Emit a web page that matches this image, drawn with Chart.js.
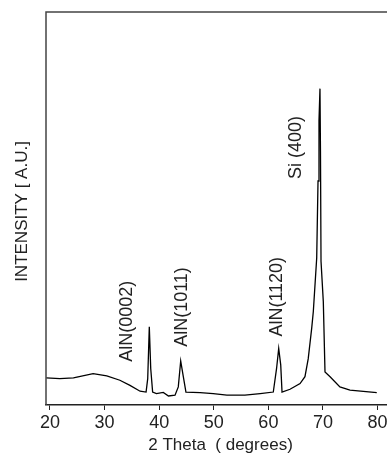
<!DOCTYPE html>
<html>
<head>
<meta charset="utf-8">
<script src="https://cdn.jsdelivr.net/npm/chart.js@4.4.1/dist/chart.umd.min.js"></script>
<style>
  html, body { margin: 0; background: #fff; overflow: hidden; }
  canvas { display: block; }
</style>
</head>
<body>
<!-- canvas a bit wider than the window: the box runs off the right edge like the scan -->
<canvas id="xrd" width="395" height="456"></canvas>
<script>
// 2 theta (degrees) and intensity (a.u.)
const twoTheta = [19.3, 21.8, 24.3, 27.9, 30.4, 32.8, 34.65, 36.5, 37.6, 37.9, 38.19, 38.45, 38.8,
  39.5, 40.75, 41.7, 42.9, 43.5, 43.94, 44.42, 44.9, 47.5, 49.9, 52.4, 55.7, 58.5, 60.9,
  61.5, 61.89, 62.26, 62.5, 63.96, 65.8, 66.7, 67.3, 67.93, 68.23, 68.85, 69.09, 69.27,
  69.45, 69.54, 69.64, 70.06, 70.37, 71.3, 73.1, 74.95, 79.85]
const intensity = [6.9, 6.7, 6.9, 8.0, 7.4, 6.3, 5.0, 3.5, 3.3, 6.7, 19.9, 9.3, 3.3,
  2.9, 3.2, 2.3, 2.5, 4.6, 11.2, 7.2, 3.3, 3.15, 2.9, 2.5, 2.5, 2.9, 3.3,
  9.3, 14.4, 10.2, 3.3, 4.0, 5.45, 7.2, 11.8, 19.5, 23.8, 37.4, 57.0, 72.4,
  80.5, 64.7, 36.6, 26.3, 8.4, 7.2, 4.6, 3.8, 3.15]

const xTicks = [20, 30, 40, 50, 60, 70, 80]

// peak labels: text, 2 theta of the label, intensity where the text starts
const peakNames = ["AlN(0002)", "AlN(1011)", "AlN(1120)", "Si (400)"]
const peakTheta = [34.1, 44.27, 61.67, 65.15]
const peakLevel = [11.0, 14.8, 17.4, 57.5]

const FONT = "'Liberation Sans', Arial, sans-serif"

const frame = {
  id: 'frame',
  afterDraw(chart) {
    const c = chart.ctx, a = chart.chartArea
    const xs = chart.scales.x, ys = chart.scales.y
    c.save()
    // top and left edges of the box
    c.strokeStyle = '#444'
    c.lineWidth = 1.5
    c.beginPath()
    c.moveTo(a.left, a.bottom)
    c.lineTo(a.left, a.top)
    c.lineTo(a.right, a.top)
    c.stroke()

    // y axis title
    c.fillStyle = '#222'
    c.font = '17px ' + FONT
    c.textAlign = 'center'
    c.textBaseline = 'middle'
    c.translate(22.5, (a.top + a.bottom) / 2 + 3)
    c.rotate(-Math.PI / 2)
    c.fillText('INTENSITY [ A.U.]', 0, 0)
    c.restore()

    // rotated peak labels
    c.save()
    c.fillStyle = '#222'
    c.font = '18px ' + FONT
    c.textAlign = 'left'
    c.textBaseline = 'middle'
    peakNames.forEach((name, i) => {
      c.save()
      c.translate(xs.getPixelForValue(peakTheta[i]), ys.getPixelForValue(peakLevel[i]))
      c.rotate(-Math.PI / 2)
      c.fillText(name, 0, 0)
      c.restore()
    })
    c.restore()
  }
}

new Chart(document.getElementById('xrd'), {
  type: 'line',
  data: {
    labels: twoTheta,
    datasets: [{
      data: twoTheta.map((t, i) => ({ x: t, y: intensity[i] })),
      borderColor: '#000',
      borderWidth: 1.3,
      pointRadius: 0,
      tension: 0,
      fill: false
    }]
  },
  options: {
    responsive: false,
    animation: false,
    layout: { padding: { left: 46, top: 12, right: 0, bottom: 0 } },
    plugins: { legend: { display: false }, tooltip: { enabled: false } },
    scales: {
      x: {
        type: 'linear',
        min: 19.27,
        max: 83.19,
        afterBuildTicks: s => { s.ticks = xTicks.map(v => ({ value: v })) },
        grid: { drawOnChartArea: false, drawTicks: true, tickLength: 5, color: '#222', lineWidth: 1 },
        border: { display: true, color: '#222', width: 1.5 },
        ticks: { color: '#222', padding: 2, maxRotation: 0, font: { family: FONT, size: 18 } },
        title: {
          display: true,
          text: '2 Theta  ( degrees)',
          color: '#222',
          font: { family: FONT, size: 17 },
          padding: { top: 0, bottom: 0 }
        }
      },
      y: { display: false, min: 0, max: 100 }
    }
  },
  plugins: [frame]
})
</script>
</body>
</html>
